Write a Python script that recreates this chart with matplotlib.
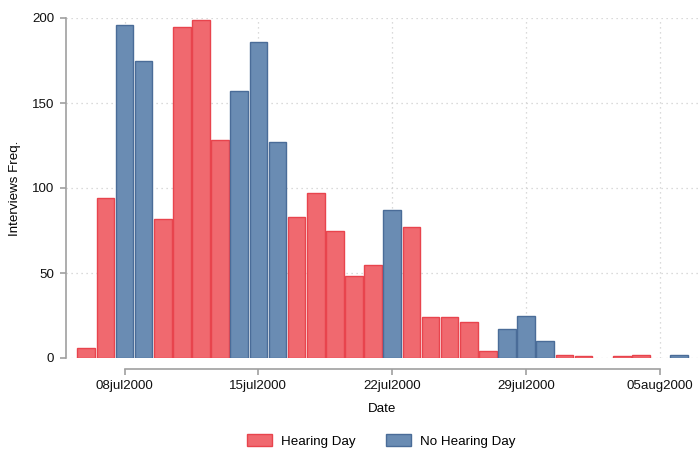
import matplotlib
matplotlib.use("Agg")
import matplotlib.pyplot as plt
import matplotlib.dates as mdates
import pandas as pd
from matplotlib.patches import Patch

plt.rcParams['font.family'] = ['Liberation Sans', 'DejaVu Sans']

# Data
dates = ["2000-07-06", "2000-07-07", "2000-07-08", "2000-07-09", "2000-07-10",
         "2000-07-11", "2000-07-12", "2000-07-13", "2000-07-14", "2000-07-15",
         "2000-07-16", "2000-07-17", "2000-07-18", "2000-07-19", "2000-07-20",
         "2000-07-21", "2000-07-22", "2000-07-23", "2000-07-24", "2000-07-25",
         "2000-07-26", "2000-07-27", "2000-07-28", "2000-07-29", "2000-07-30",
         "2000-07-31", "2000-08-01", "2000-08-03", "2000-08-04", "2000-08-06"]
counts = [6, 94, 196, 175, 82,
          195, 199, 128, 157, 186,
          127, 83, 97, 75, 48,
          55, 87, 77, 24, 24,
          21, 4, 17, 25, 10,
          2, 1, 1, 2, 2]
hearing = [1, 1, 0, 0, 1,
           1, 1, 1, 0, 0,
           0, 1, 1, 1, 1,
           1, 0, 1, 1, 1,
           1, 1, 0, 0, 0,
           1, 1, 1, 1, 0]
group_labels = ["Hearing Day", "No Hearing Day"]
tick_dates = ["2000-07-08", "2000-07-15", "2000-07-22", "2000-07-29", "2000-08-05"]
tick_labels = ["08jul2000", "15jul2000", "22jul2000", "29jul2000", "05aug2000"]

red_fill, red_edge = "#F0696F", "#E8444D"
blue_fill, blue_edge = "#6A8CB3", "#4A6C98"

fig = plt.figure(figsize=(7.0, 4.51), dpi=100)
W, H = 700, 451
ax = fig.add_axes([66 / W, 1 - 358 / H, (699 - 66) / W, (358 - 18) / H])

x = pd.to_datetime(dates)
h_x = [d for d, g in zip(x, hearing) if g == 1]
h_y = [c for c, g in zip(counts, hearing) if g == 1]
n_x = [d for d, g in zip(x, hearing) if g == 0]
n_y = [c for c, g in zip(counts, hearing) if g == 0]

ax.bar(h_x, h_y, width=0.92, color=red_fill, edgecolor=red_edge, linewidth=1.0, zorder=3)
ax.bar(n_x, n_y, width=0.92, color=blue_fill, edgecolor=blue_edge, linewidth=1.0, zorder=3)

t0 = pd.Timestamp("2000-07-08")
ax.set_xlim(mdates.date2num(t0 - pd.Timedelta(days=3.06)),
            mdates.date2num(t0 + pd.Timedelta(days=30.04)))
ax.set_ylim(0, 200)

ticks = pd.to_datetime(tick_dates)
ax.set_xticks(mdates.date2num(ticks))
ax.set_xticklabels(tick_labels)
ax.set_yticks([0, 50, 100, 150, 200])

# grid
ax.grid(True, which='major', axis='both', color='#CFCFCF', linestyle=(0, (1, 3)), linewidth=0.9, zorder=0)
ax.set_axisbelow(True)

for s in ['top', 'right']:
    ax.spines[s].set_visible(False)
ax.spines['left'].set_color('#A0A0A0')
ax.spines['left'].set_linewidth(1.2)
ax.spines['left'].set_bounds(0, 200)
ax.spines['bottom'].set_color('#A0A0A0')
ax.spines['bottom'].set_linewidth(1.2)
ax.spines['bottom'].set_position(('outward', 8))
ax.spines['bottom'].set_bounds(mdates.date2num(ticks[0]), mdates.date2num(ticks[-1]))

ax.tick_params(axis='both', direction='out', color='#A0A0A0', width=1.2, length=4.5,
               labelsize=9.6, labelcolor='#111111')
ax.tick_params(axis='x', pad=3.5)
ax.tick_params(axis='y', pad=4)

ax.set_xlabel("Date", fontsize=9.6, labelpad=8)
ax.set_ylabel("Interviews Freq.", fontsize=9.6, labelpad=7.5)

handles = [Patch(facecolor=red_fill, edgecolor=red_edge, linewidth=1.0),
           Patch(facecolor=blue_fill, edgecolor=blue_edge, linewidth=1.0)]
fig.legend(handles, group_labels, loc='center', bbox_to_anchor=(381 / W, 1 - 441 / H),
           ncol=2, frameon=False, fontsize=9.6, handlelength=1.9, handleheight=0.95,
           columnspacing=2.3, handletextpad=0.65)

fig.savefig("out.png", dpi=100)
